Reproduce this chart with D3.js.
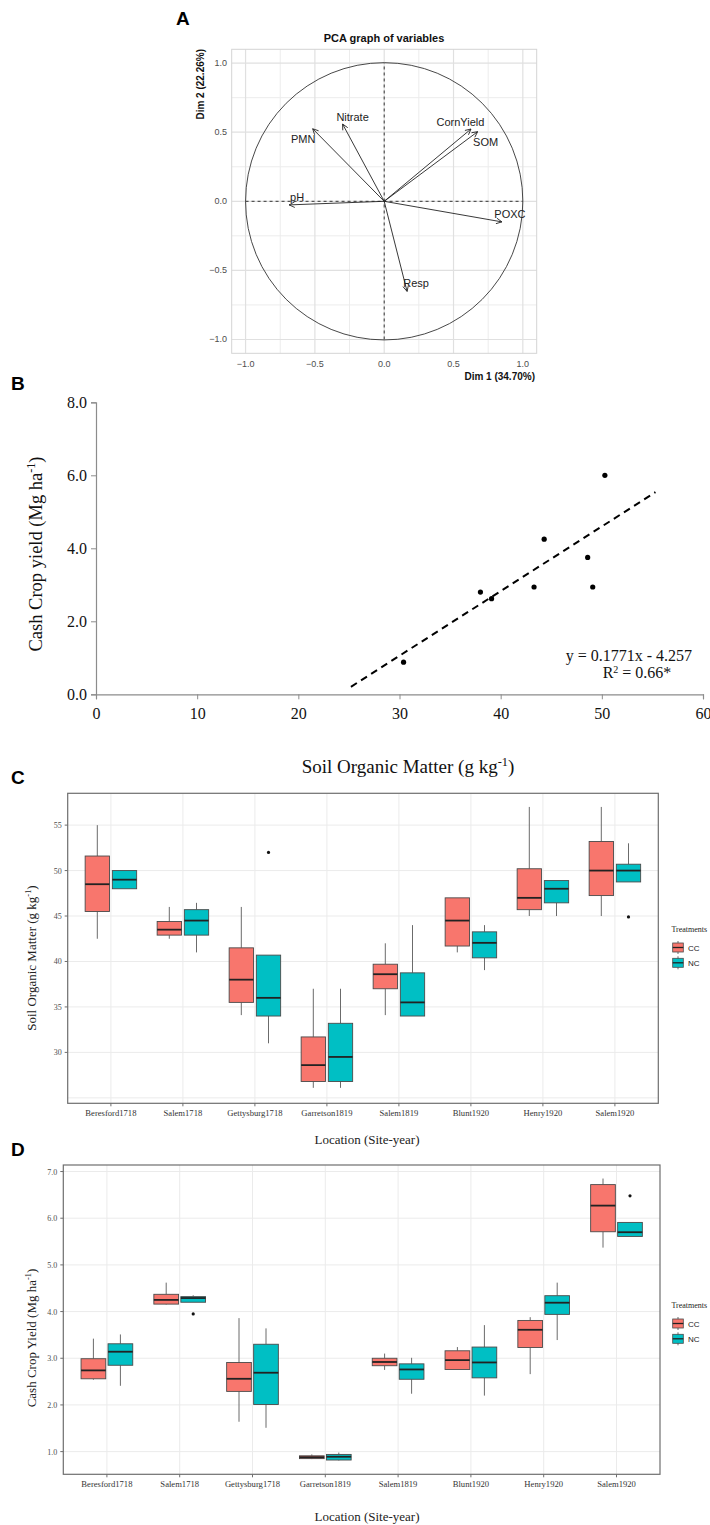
<!DOCTYPE html>
<html><head><meta charset="utf-8">
<script src="https://cdn.jsdelivr.net/npm/d3@7"></script>
<style>body{margin:0;background:#fff}</style>
</head><body>
<script>
// ================= DATA =================
// Panel A – PCA variable coordinates
const pcaVars = ["PMN","Nitrate","CornYield","SOM","pH","POXC","Resp"];
const pcaDim1 = [-0.516,-0.300,0.626,0.674,-0.686,0.849,0.165];
const pcaDim2 = [0.525,0.559,0.523,0.504,-0.026,-0.149,-0.652];
const pcaTicks = [-1.0,-0.5,0.0,0.5,1.0];
const pcaMinorTicks = [-0.75,-0.25,0.25,0.75];

// Panel B – scatter
const somValues = [30.4,38.0,39.1,43.3,44.3,48.6,49.1,50.3];
const yieldValues = [0.88,2.80,2.62,2.94,4.25,3.75,2.94,6.00];
const trendSlope = 0.1771, trendIntercept = -4.257;
const trendXRange = [25.2,55.3];
const bXTicks = [0,10,20,30,40,50,60];
const bYTicks = [0,2,4,6,8];

// Panels C & D – boxplots  [min, q1, median, q3, max]
const locations = ["Beresford1718","Salem1718","Gettysburg1718","Garretson1819","Salem1819","Blunt1920","Henry1920","Salem1920"];
const treatments = ["CC","NC"];
const somCC = [[42.5,45.5,48.5,51.6,55.0],[42.5,42.9,43.5,44.4,46.0],[34.1,35.5,38.0,41.5,46.0],[26.1,26.8,28.6,31.7,37.0],
               [34.1,37.0,38.6,39.7,42.0],[41.0,41.7,44.5,47.0,47.0],[45.0,45.7,47.0,50.2,57.0],[45.0,47.25,50.0,53.2,57.0]];
const somNC = [[48.0,48.0,49.0,50.0,50.0],[41.0,42.9,44.5,45.7,46.45],[31.0,34.0,36.0,40.7,40.7],[26.1,26.8,29.5,33.2,37.0],
               [34.0,34.0,35.5,38.75,44.0],[39.05,40.4,42.05,43.26,44.0],[45.0,46.45,48.0,48.9,48.9],[48.75,48.75,50.0,50.7,53.0]];
const somOutliers = [{loc:"Gettysburg1718",trt:"NC",value:52.0},{loc:"Salem1920",trt:"NC",value:44.9}];
const somTicks = [30,35,40,45,50,55];
const somGrid = [25,30,35,40,45,50,55];

const yieldCC = [[2.54,2.56,2.74,2.99,3.42],[4.15,4.16,4.25,4.37,4.62],[1.64,2.29,2.56,2.91,3.86],[0.84,0.85,0.88,0.91,0.94],
                 [2.75,2.84,2.92,3.00,3.10],[2.76,2.76,2.96,3.16,3.24],[2.66,3.23,3.61,3.81,3.88],[5.37,5.71,6.27,6.72,6.85]];
const yieldNC = [[2.41,2.85,3.14,3.31,3.51],[4.20,4.20,4.29,4.32,4.35],[1.51,2.01,2.69,3.30,3.64],[0.81,0.82,0.89,0.94,0.98],
                 [2.24,2.55,2.76,2.88,3.01],[2.20,2.58,2.91,3.24,3.71],[3.39,3.94,4.19,4.34,4.62],[5.61,5.61,5.70,5.91,5.91]];
const yieldOutliers = [{loc:"Salem1718",trt:"NC",value:3.95},{loc:"Salem1920",trt:"NC",value:6.48}];
const yieldTicks = [1,2,3,4,5,6,7];

// ================= DRAWING =================
const SERIF = "'Liberation Serif','Times New Roman',serif";
const SANS = "'Liberation Sans',Arial,sans-serif";
const treatColor = d3.scaleOrdinal(treatments, ["#F8766D","#00BFC4"]);

const svg = d3.select("body").append("svg").attr("width",710).attr("height",1525);
svg.append("rect").attr("width",710).attr("height",1525).attr("fill","#fff");

function panelLetter(t,x,y){
  svg.append("text").attr("x",x).attr("y",y).text(t)
    .attr("font-family",SANS).attr("font-weight","bold").attr("font-size",19).attr("fill","#000");
}
function supText(sel, parts, size){
  parts.forEach(p=>{
    if(p[1]) sel.append("tspan").attr("dy",-size*0.38).attr("font-size",size*0.65).text(p[0]);
    else sel.append("tspan").attr("dy",p[2]||0).text(p[0]);
  });
}

// ---------- Panel A ----------
(function(){
  const xA = d3.scaleLinear([-1.1,1.1],[231.7,536.7]);
  const yA = d3.scaleLinear([-1.1,1.1],[353.3,49.3]);
  const g = svg.append("g");
  g.selectAll("line.minx").data(pcaMinorTicks).join("line")
    .attr("x1",d=>xA(d)).attr("x2",d=>xA(d)).attr("y1",yA.range()[0]).attr("y2",yA.range()[1])
    .attr("stroke","#ececec").attr("stroke-width",1);
  g.selectAll("line.miny").data(pcaMinorTicks).join("line")
    .attr("y1",d=>yA(d)).attr("y2",d=>yA(d)).attr("x1",xA.range()[0]).attr("x2",xA.range()[1])
    .attr("stroke","#ececec").attr("stroke-width",1);
  g.selectAll("line.majx").data(pcaTicks).join("line")
    .attr("x1",d=>xA(d)).attr("x2",d=>xA(d)).attr("y1",yA.range()[0]).attr("y2",yA.range()[1])
    .attr("stroke","#e0e0e0").attr("stroke-width",1.2);
  g.selectAll("line.majy").data(pcaTicks).join("line")
    .attr("y1",d=>yA(d)).attr("y2",d=>yA(d)).attr("x1",xA.range()[0]).attr("x2",xA.range()[1])
    .attr("stroke","#e0e0e0").attr("stroke-width",1.2);
  g.append("rect").attr("x",xA.range()[0]).attr("y",yA.range()[1])
    .attr("width",xA.range()[1]-xA.range()[0]).attr("height",yA.range()[0]-yA.range()[1])
    .attr("fill","none").attr("stroke","#d4d4d4").attr("stroke-width",1);
  // tick labels
  g.selectAll("text.xt").data(pcaTicks).join("text")
    .attr("x",d=>xA(d)).attr("y",367).attr("text-anchor","middle").text(d=>d3.format(".1f")(d))
    .attr("font-family",SANS).attr("font-size",9).attr("fill","#4d4d4d");
  g.selectAll("text.yt").data(pcaTicks).join("text")
    .attr("x",227).attr("y",d=>yA(d)+3).attr("text-anchor","end").text(d=>d3.format(".1f")(d))
    .attr("font-family",SANS).attr("font-size",9).attr("fill","#4d4d4d");
  // circle & dashed axes
  g.append("circle").attr("cx",xA(0)).attr("cy",yA(0)).attr("r",xA(1)-xA(0))
    .attr("fill","none").attr("stroke","#333").attr("stroke-width",0.9);
  g.append("line").attr("x1",xA(-1)).attr("x2",xA(1)).attr("y1",yA(0)).attr("y2",yA(0))
    .attr("stroke","#333").attr("stroke-dasharray","3,3").attr("stroke-width",1);
  g.append("line").attr("y1",yA(-1)).attr("y2",yA(1)).attr("x1",xA(0)).attr("x2",xA(0))
    .attr("stroke","#333").attr("stroke-dasharray","3,3").attr("stroke-width",1);
  // arrow marker
  svg.append("defs").append("marker").attr("id","arr").attr("viewBox","0 0 10 10")
    .attr("refX",9).attr("refY",5).attr("markerWidth",7).attr("markerHeight",7)
    .attr("markerUnits","userSpaceOnUse").attr("orient","auto")
    .append("path").attr("d","M1,1 L9,5 L1,9").attr("fill","none").attr("stroke","#222").attr("stroke-width",1.2);
  const idx = d3.range(pcaVars.length);
  g.selectAll("line.arrow").data(idx).join("line")
    .attr("x1",xA(0)).attr("y1",yA(0)).attr("x2",i=>xA(pcaDim1[i])).attr("y2",i=>yA(pcaDim2[i]))
    .attr("stroke","#222").attr("stroke-width",0.9).attr("marker-end","url(#arr)");
  const nudge = {PMN:[-9.5,10.5],Nitrate:[10,-7.5],CornYield:[-10.5,-7.5],SOM:[8,10.5],pH:[8,-8],POXC:[8,-7.5],Resp:[9,-8.5]};
  g.selectAll("text.lab").data(idx).join("text")
    .attr("x",i=>xA(pcaDim1[i])+nudge[pcaVars[i]][0]).attr("y",i=>yA(pcaDim2[i])+nudge[pcaVars[i]][1]+4)
    .attr("text-anchor","middle").text(i=>pcaVars[i])
    .attr("font-family",SANS).attr("font-size",11).attr("fill","#222");
  // titles
  svg.append("text").attr("x",384).attr("y",42).attr("text-anchor","middle").text("PCA graph of variables")
    .attr("font-family",SANS).attr("font-weight","bold").attr("font-size",11).attr("fill","#111");
  svg.append("text").attr("x",535).attr("y",380).attr("text-anchor","end").text("Dim 1 (34.70%)")
    .attr("font-family",SANS).attr("font-weight","bold").attr("font-size",10).attr("fill","#111");
  svg.append("text").attr("transform","translate(204,49) rotate(-90)").attr("text-anchor","end").text("Dim 2 (22.26%)")
    .attr("font-family",SANS).attr("font-weight","bold").attr("font-size",10).attr("fill","#111");
  panelLetter("A",176,25);
})();

// ---------- Panel B ----------
(function(){
  const xB = d3.scaleLinear([0,60],[96,703]);
  const yB = d3.scaleLinear([0,8],[694.3,402.3]);
  const g = svg.append("g");
  const ax = g.append("g").attr("transform","translate(0,694.3)")
    .call(d3.axisBottom(xB).tickValues(bXTicks).tickSize(5).tickPadding(5).tickFormat(d3.format("d")));
  const ay = g.append("g").attr("transform","translate(96,0)")
    .call(d3.axisLeft(yB).tickValues(bYTicks).tickSize(5).tickPadding(4).tickFormat(d3.format(".1f")));
  [ax,ay].forEach(a=>{
    a.select(".domain").attr("stroke","#8c8c8c").attr("stroke-width",1.2);
    a.selectAll(".tick line").attr("stroke","#8c8c8c");
    a.selectAll("text").attr("font-family",SERIF).attr("font-size",16).attr("fill","#111");
  });
  ax.selectAll("text").attr("dy","0.9em");
  g.append("line").attr("x1",xB(trendXRange[0])).attr("y1",yB(trendSlope*trendXRange[0]+trendIntercept))
    .attr("x2",xB(trendXRange[1])).attr("y2",yB(trendSlope*trendXRange[1]+trendIntercept))
    .attr("stroke","#000").attr("stroke-width",2).attr("stroke-dasharray","7,5");
  g.selectAll("circle").data(somValues).join("circle")
    .attr("cx",d=>xB(d)).attr("cy",(d,i)=>yB(yieldValues[i])).attr("r",2.6).attr("fill","#000");
  g.append("text").attr("x",692).attr("y",661).attr("text-anchor","end")
    .text(`y = ${trendSlope}x - ${Math.abs(trendIntercept)}`)
    .attr("font-family",SERIF).attr("font-size",16).attr("fill","#111");
  const r2 = g.append("text").attr("x",637).attr("y",678).attr("text-anchor","middle")
    .attr("font-family",SERIF).attr("font-size",16).attr("fill","#111");
  r2.append("tspan").text("R");
  r2.append("tspan").attr("dy",-5).attr("font-size",10).text("2");
  r2.append("tspan").attr("dy",5).text(" = 0.66*");
  const yt = g.append("text").attr("transform","translate(42,554) rotate(-90)").attr("text-anchor","middle")
    .attr("font-family",SERIF).attr("font-size",18.5).attr("fill","#111");
  supText(yt,[["Cash Crop yield (Mg ha"],["-1",true],[")",false,18.5*0.38]],18.5);
  const xt = g.append("text").attr("x",408).attr("y",773).attr("text-anchor","middle")
    .attr("font-family",SERIF).attr("font-size",19).attr("fill","#111");
  supText(xt,[["Soil Organic Matter (g kg"],["-1",true],[")",false,19*0.38]],19);
  panelLetter("B",11,390);
})();

// ---------- Boxplot panels ----------
function boxPanel(o){
  const x = d3.scalePoint(locations, o.xRange);
  const y = d3.scaleLinear(o.yDomain, [o.bottom, o.top]);
  const g = svg.append("g");
  g.append("rect").attr("x",o.left).attr("y",o.top).attr("width",o.right-o.left).attr("height",o.bottom-o.top).attr("fill","#fff");
  g.selectAll("line.gy").data(o.grid).join("line")
    .attr("x1",o.left).attr("x2",o.right).attr("y1",d=>y(d)).attr("y2",d=>y(d)).attr("stroke","#ebebeb").attr("stroke-width",1);
  g.selectAll("line.gx").data(locations).join("line")
    .attr("y1",o.top).attr("y2",o.bottom).attr("x1",d=>x(d)).attr("x2",d=>x(d)).attr("stroke","#ebebeb").attr("stroke-width",1);
  const bw = o.boxW, off = o.dodge;
  [[o.cc,"CC",-off],[o.nc,"NC",off]].forEach(([stats,trt,dx])=>{
    const bg = g.append("g");
    const data = stats.map((s,i)=>({s, cx:x(locations[i])+dx}));
    bg.selectAll("line.wu").data(data).join("line")
      .attr("x1",d=>d.cx).attr("x2",d=>d.cx).attr("y1",d=>y(d.s[4])).attr("y2",d=>y(d.s[3]))
      .attr("stroke","#6b6b6b").attr("stroke-width",1);
    bg.selectAll("line.wl").data(data).join("line")
      .attr("x1",d=>d.cx).attr("x2",d=>d.cx).attr("y1",d=>y(d.s[1])).attr("y2",d=>y(d.s[0]))
      .attr("stroke","#6b6b6b").attr("stroke-width",1);
    bg.selectAll("rect").data(data).join("rect")
      .attr("x",d=>d.cx-bw/2).attr("width",bw).attr("y",d=>y(d.s[3])).attr("height",d=>Math.max(1,y(d.s[1])-y(d.s[3])))
      .attr("fill",treatColor(trt)).attr("stroke","#4a4a4a").attr("stroke-width",0.9);
    bg.selectAll("line.med").data(data).join("line")
      .attr("x1",d=>d.cx-bw/2).attr("x2",d=>d.cx+bw/2).attr("y1",d=>y(d.s[2])).attr("y2",d=>y(d.s[2]))
      .attr("stroke","#222").attr("stroke-width",1.8);
  });
  g.selectAll("circle.out").data(o.outliers).join("circle")
    .attr("cx",d=>x(d.loc)+(d.trt==="CC"?-off:off)).attr("cy",d=>y(d.value)).attr("r",1.6).attr("fill","#111");
  g.append("rect").attr("x",o.left).attr("y",o.top).attr("width",o.right-o.left).attr("height",o.bottom-o.top)
    .attr("fill","none").attr("stroke","#6e6e6e").attr("stroke-width",1.2);
  // ticks
  g.selectAll("line.tx").data(locations).join("line")
    .attr("x1",d=>x(d)).attr("x2",d=>x(d)).attr("y1",o.bottom).attr("y2",o.bottom+3).attr("stroke","#6e6e6e");
  g.selectAll("line.ty").data(o.ticks).join("line")
    .attr("y1",d=>y(d)).attr("y2",d=>y(d)).attr("x1",o.left).attr("x2",o.left-3).attr("stroke","#6e6e6e");
  g.selectAll("text.tx").data(locations).join("text")
    .attr("x",d=>x(d)).attr("y",o.bottom+13).attr("text-anchor","middle").text(d=>d)
    .attr("font-family",SERIF).attr("font-size",8.6).attr("fill","#333");
  g.selectAll("text.ty").data(o.ticks).join("text")
    .attr("x",o.left-6).attr("y",d=>y(d)+3).attr("text-anchor","end").text(o.fmt)
    .attr("font-family",SERIF).attr("font-size",8).attr("fill","#4d4d4d");
  // axis titles
  const yt = g.append("text").attr("transform",`translate(36,${o.yTitleY}) rotate(-90)`).attr("text-anchor","middle")
    .attr("font-family",SERIF).attr("font-size",13).attr("fill","#222");
  supText(yt,[[o.yTitle],["-1",true],[")",false,13*0.38]],13);
  g.append("text").attr("x",367).attr("y",o.xTitleY).attr("text-anchor","middle").text("Location (Site-year)")
    .attr("font-family",SERIF).attr("font-size",13).attr("fill","#222");
  // legend
  const lg = g.append("g");
  lg.append("text").attr("x",671.5).attr("y",o.legTop).text("Treatments")
    .attr("font-family",SERIF).attr("font-size",8).attr("fill","#222");
  treatments.forEach((t,i)=>{
    const ky = o.legTop+11+i*15.3;
    lg.append("line").attr("x1",678).attr("x2",678).attr("y1",ky-2).attr("y2",ky+11).attr("stroke","#6b6b6b");
    lg.append("rect").attr("x",672.7).attr("y",ky).attr("width",10.6).attr("height",9)
      .attr("fill",treatColor(t)).attr("stroke","#4a4a4a").attr("stroke-width",0.8);
    lg.append("line").attr("x1",672.7).attr("x2",683.3).attr("y1",ky+4.5).attr("y2",ky+4.5).attr("stroke","#222").attr("stroke-width",1.3);
    lg.append("text").attr("x",688).attr("y",ky+7.5).text(t)
      .attr("font-family",SANS).attr("font-size",8).attr("fill","#222");
  });
}

boxPanel({left:67.7,right:658.3,top:793.3,bottom:1103.3,xRange:[110.9,614.9],yDomain:[24.4,58.5],
  cc:somCC,nc:somNC,outliers:somOutliers,ticks:somTicks,grid:somGrid,fmt:d=>d,boxW:24.3,dodge:13.6,
  yTitle:"Soil Organic Matter (g kg",yTitleY:958,xTitleY:1144,legTop:932});
panelLetter("C",11,784);

boxPanel({left:63.3,right:660,top:1165,bottom:1474.3,xRange:[106.9,616.5],yDomain:[0.514,7.14],
  cc:yieldCC,nc:yieldNC,outliers:yieldOutliers,ticks:yieldTicks,grid:yieldTicks,fmt:d3.format(".1f"),boxW:24.7,dodge:13.5,
  yTitle:"Cash Crop Yield (Mg ha",yTitleY:1338,xTitleY:1521,legTop:1308});
panelLetter("D",11,1156);
</script>
</body></html>
